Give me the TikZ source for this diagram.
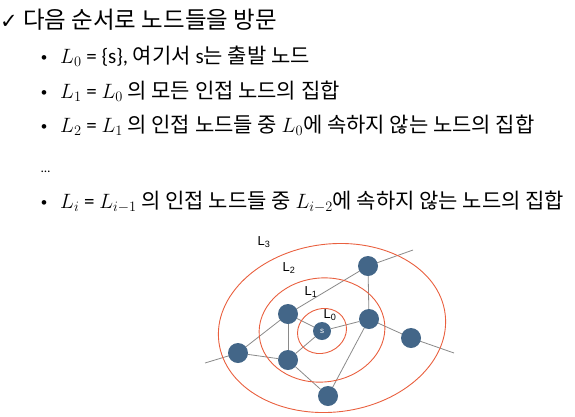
\documentclass[tikz,border=0pt]{standalone}
\usepackage{fontspec}
\setmainfont{Carlito}
\newfontfamily\kor{Noto Sans CJK KR}
\newfontfamily\symb{DejaVu Sans}
\newfontfamily\lab{Liberation Sans}
\usepackage{amsmath}
\usepackage{tikz}
\usetikzlibrary{backgrounds}
\usepackage{xcolor}

\definecolor{nodeblue}{HTML}{436688}
\definecolor{ringred}{HTML}{E9603F}
\definecolor{edgegray}{HTML}{8A8A8A}

\begin{document}
\begin{tikzpicture}[x=1pt, y=-1pt,
    vtx/.style={circle, fill=nodeblue, minimum size=20pt, inner sep=0pt},
    edge/.style={draw=edgegray, line width=0.8pt},
    ring/.style={draw=ringred, line width=0.9pt},
    lvl/.style={font=\lab\fontsize{13}{15}\selectfont, text=black},
    line/.style={anchor=base west, inner sep=0pt, font=\fontsize{21}{24}\selectfont},
    dot/.style={anchor=base, inner sep=0pt, font=\fontsize{13}{14}\selectfont}]
  \useasboundingbox (0,0) rectangle (575,416);

  % texte
  \node[anchor=base west, inner sep=0pt, font=\symb\fontsize{21}{22}\selectfont] (coche) at (0,28) {✓};
  \node[anchor=base west, inner sep=0pt, font=\kor\fontsize{23.5}{26}\selectfont] (titre) at (23,28)
    {다음 순서로 노드들을 방문};

  \node[dot] (p1) at (44,61) {•};
  \node[line] (t1) at (60,63) {$L_0$ = \{s\}, {\kor 여기서} s{\kor 는 출발 노드}};
  \node[dot] (p2) at (44,96) {•};
  \node[line] (t2) at (60,98) {$L_1$ = $L_0$ {\kor 의 모든 인접 노드의 집합}};
  \node[dot] (p3) at (44,130) {•};
  \node[line] (t3) at (60,132) {$L_2$ = $L_1$ {\kor 의 인접 노드들 중} $L_0${\kor 에 속하지 않는 노드의 집합}};
  \node[line, font=\fontsize{13}{14}\selectfont] (pts) at (41,172) {…};
  \node[dot] (p4) at (44,206) {•};
  \node[line] (t4) at (60,208) {$L_i$ = $L_{i-1}$ {\kor 의 인접 노드들 중} $L_{i-2}${\kor 에 속하지 않는 노드의 집합}};

  % niveaux
  \draw[ring, rotate around={25:(322,331)}] (322,331) ellipse [x radius=25, y radius=22];
  \draw[ring, rotate around={6:(322,330)}] (322,330) ellipse [x radius=63, y radius=52];
  \draw[ring, rotate around={7:(332,328)}] (332,328) ellipse [x radius=114, y radius=84];

  \node[lvl] (l3) at (264,242) {L\textsubscript{3}};
  \node[lvl] (l2) at (289,268) {L\textsubscript{2}};
  \node[lvl] (l1) at (311,292) {L\textsubscript{1}};
  \node[lvl] (l0) at (330,315) {L\textsubscript{0}};

  % graphe
  \coordinate (debut) at (205,363);
  \coordinate (fin1) at (413,250);
  \coordinate (fin2) at (454,353);

  \node[vtx, minimum size=18pt, text=white, font=\lab\fontsize{8}{8}\selectfont] (s) at (322,331) {s};
  \node[vtx] (a1) at (288,314) {};
  \node[vtx] (a2) at (369,319) {};
  \node[vtx] (a3) at (288,360) {};
  \node[vtx] (b1) at (368,266) {};
  \node[vtx] (b2) at (238,353) {};
  \node[vtx] (b3) at (411,338) {};
  \node[vtx] (b4) at (328,396) {};

  \begin{scope}[on background layer]
    \draw[edge] (s) -- (a1);
    \draw[edge] (s) -- (a2);
    \draw[edge] (s) -- (a3);
    \draw[edge] (a1) -- (a3);
    \draw[edge] (b2) -- (a3);
    \draw[edge] (a3) -- (b4);
    \draw[edge] (b4) -- (a2);
    \draw[edge] (a2) -- (b1);
    \draw[edge] (a2.center) -- (b3.center) -- (fin2);
    \draw[edge] (debut) -- (b2.center) -- (a1.center) -- (b1.center) -- (fin1);
  \end{scope}
\end{tikzpicture}
\end{document}
